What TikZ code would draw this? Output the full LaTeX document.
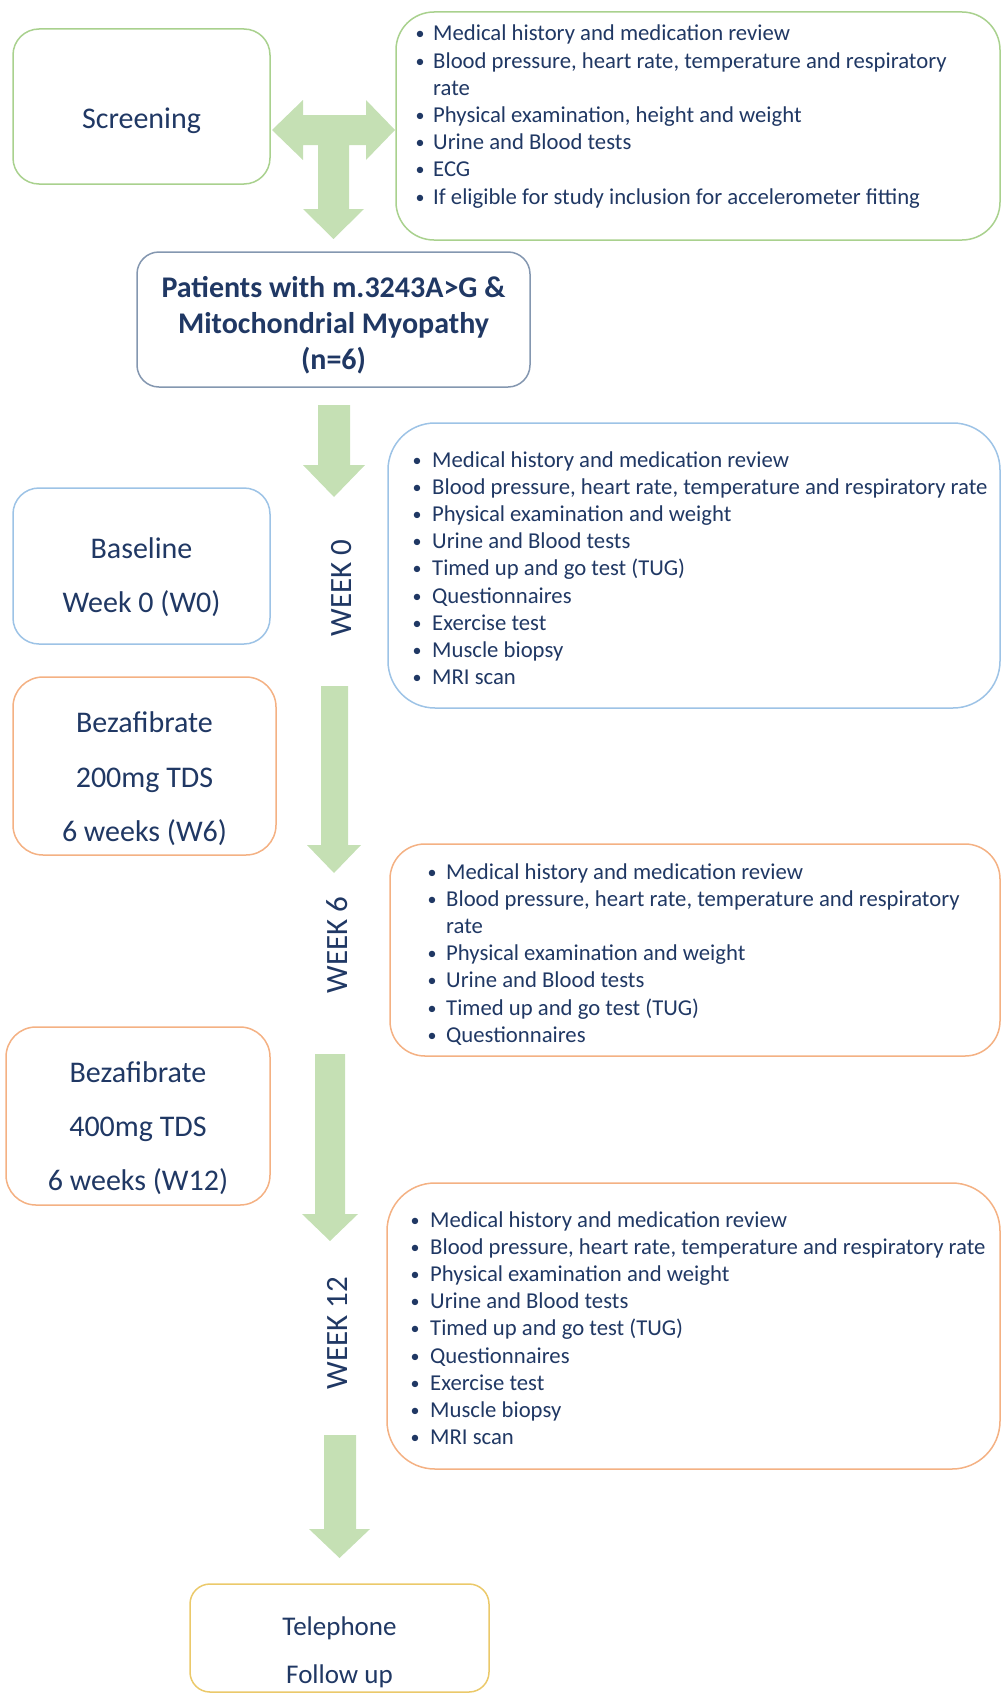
\documentclass[tikz,border=0pt]{standalone}
\usepackage{fontspec}
\setmainfont{Carlito}
\definecolor{txt}{HTML}{203864}
\definecolor{grn}{HTML}{A9D18E}
\definecolor{blu}{HTML}{9DC3E6}
\definecolor{org}{HTML}{F4B183}
\definecolor{gry}{HTML}{8497B0}
\definecolor{gld}{HTML}{EBC96A}
\definecolor{arr}{HTML}{C5E0B4}
\newcommand\bi[1]{\makebox[#1][l]{\hspace*{-1.5pt}\raisebox{1pt}{\fontsize{18}{18}\selectfont•}}}
\begin{document}
\begin{tikzpicture}[x=1pt,y=-1pt,
  box/.style={draw, line width=1.5pt, inner sep=0pt, fill=white},
  boxtxt/.style={text=txt, font=\fontsize{30}{36}\selectfont, anchor=base, inner sep=0pt},
  listtxt/.style={text=txt, font=\fontsize{22.7}{27.2}\selectfont, anchor=base west, inner sep=0pt},
  weektxt/.style={text=txt, font=\fontsize{31}{36}\selectfont, rotate=90, inner sep=0pt},
  blockarrow/.style={fill=arr, draw=none}]
\useasboundingbox (0,0) rectangle (1001,1694);

% ---------- boxes ----------
\node[box, draw=grn, minimum width=257pt, minimum height=155pt, rounded corners=26pt] (scr) at (141.5,106.5) {};
\node[box, draw=grn, minimum width=604pt, minimum height=228pt, rounded corners=38pt] (scrlist) at (698,126) {};
\node[box, draw=gry, minimum width=393pt, minimum height=135pt, rounded corners=22pt] (pat) at (333.5,319.5) {};
\node[box, draw=blu, minimum width=257pt, minimum height=156pt, rounded corners=26pt] (base) at (141.5,566) {};
\node[box, draw=blu, minimum width=612pt, minimum height=285pt, rounded corners=47pt] (w0list) at (694,565.5) {};
\node[box, draw=org, minimum width=263pt, minimum height=178pt, rounded corners=30pt] (bez2) at (144.5,766) {};
\node[box, draw=org, minimum width=610pt, minimum height=212pt, rounded corners=35pt] (w6list) at (695,950) {};
\node[box, draw=org, minimum width=264pt, minimum height=178pt, rounded corners=30pt] (bez4) at (138,1116) {};
\node[box, draw=org, minimum width=613pt, minimum height=286pt, rounded corners=48pt] (w12list) at (693.5,1326) {};
\node[box, draw=gld, minimum width=299pt, minimum height=108pt, rounded corners=20pt] (tel) at (339.5,1638) {};

% ---------- block arrows ----------
\fill[blockarrow] (272,130) -- (303,100) -- (303,115) -- (366,115) -- (366,100) -- (395,130)
  -- (366,160) -- (366,145) -- (349,145) -- (349,209) -- (364,209) -- (333.5,239)
  -- (303,209) -- (318,209) -- (318,145) -- (303,145) -- (303,160) -- cycle;
\fill[blockarrow] (318,405) -- (350,405) -- (350,465) -- (365,465) -- (334,497) -- (303,465) -- (318,465) -- cycle;
\fill[blockarrow] (321,686) -- (348,686) -- (348,845) -- (361,845) -- (334,873) -- (307,845) -- (321,845) -- cycle;
\fill[blockarrow] (315,1054) -- (345,1054) -- (345,1214) -- (358,1214) -- (330,1241) -- (302,1214) -- (315,1214) -- cycle;
\fill[blockarrow] (324,1435) -- (356,1435) -- (356,1529) -- (370,1529) -- (339.5,1558) -- (309,1529) -- (324,1529) -- cycle;

% ---------- box texts ----------
\node[boxtxt] (tscr) at (141.5,128) {Screening};
\node[boxtxt, font=\bfseries\fontsize{30}{36}\selectfont] (tpat1) at (333.5,297) {Patients with m.3243A>G \&};
\node[boxtxt, font=\bfseries\fontsize{30}{36}\selectfont] (tpat2) at (333.5,333) {Mitochondrial Myopathy};
\node[boxtxt, font=\bfseries\fontsize{30}{36}\selectfont] (tpat3) at (333.5,369) {(n=6)};
\node[boxtxt] (tbase1) at (141.5,558) {Baseline};
\node[boxtxt] (tbase2) at (141.5,612) {Week 0 (W0)};
\node[boxtxt] (tbz21) at (144.5,732) {Bezafibrate};
\node[boxtxt] (tbz22) at (144.5,787) {200mg TDS};
\node[boxtxt] (tbz23) at (144.5,841) {6 weeks (W6)};
\node[boxtxt] (tbz41) at (138,1082) {Bezafibrate};
\node[boxtxt] (tbz42) at (138,1136) {400mg TDS};
\node[boxtxt] (tbz43) at (138,1190) {6 weeks (W12)};
\node[boxtxt, font=\fontsize{27}{32}\selectfont] (ttel1) at (339.5,1635) {Telephone};
\node[boxtxt, font=\fontsize{27}{32}\selectfont] (ttel2) at (339.5,1683) {Follow up};

% ---------- week labels ----------
\node[weektxt] (wk0) at (342,588) {WEEK 0};
\node[weektxt] (wk6) at (337,945) {WEEK 6};
\node[weektxt] (wk12) at (337,1333) {WEEK 12};

% ---------- lists ----------
\node[listtxt] (l0) at (417,41) {\begin{tabular}[t]{@{}l@{}}
\bi{16pt}Medical history and medication review\\
\bi{16pt}Blood pressure, heart rate, temperature and respiratory\\
\hspace*{16pt}rate\\
\bi{16pt}Physical examination, height and weight\\
\bi{16pt}Urine and Blood tests\\
\bi{16pt}ECG\\
\bi{16pt}If eligible for study inclusion for accelerometer fitting
\end{tabular}};

\node[listtxt] (l1) at (414,467) {\begin{tabular}[t]{@{}l@{}}
\bi{18pt}Medical history and medication review\\
\bi{18pt}Blood pressure, heart rate, temperature and respiratory rate\\
\bi{18pt}Physical examination and weight\\
\bi{18pt}Urine and Blood tests\\
\bi{18pt}Timed up and go test (TUG)\\
\bi{18pt}Questionnaires\\
\bi{18pt}Exercise test\\
\bi{18pt}Muscle biopsy\\
\bi{18pt}MRI scan
\end{tabular}};

\node[listtxt] (l2) at (429,879) {\begin{tabular}[t]{@{}l@{}}
\bi{17pt}Medical history and medication review\\
\bi{17pt}Blood pressure, heart rate, temperature and respiratory\\
\hspace*{17pt}rate\\
\bi{17pt}Physical examination and weight\\
\bi{17pt}Urine and Blood tests\\
\bi{17pt}Timed up and go test (TUG)\\
\bi{17pt}Questionnaires
\end{tabular}};

\node[listtxt] (l3) at (412,1227) {\begin{tabular}[t]{@{}l@{}}
\bi{18pt}Medical history and medication review\\
\bi{18pt}Blood pressure, heart rate, temperature and respiratory rate\\
\bi{18pt}Physical examination and weight\\
\bi{18pt}Urine and Blood tests\\
\bi{18pt}Timed up and go test (TUG)\\
\bi{18pt}Questionnaires\\
\bi{18pt}Exercise test\\
\bi{18pt}Muscle biopsy\\
\bi{18pt}MRI scan
\end{tabular}};
\end{tikzpicture}
\end{document}
